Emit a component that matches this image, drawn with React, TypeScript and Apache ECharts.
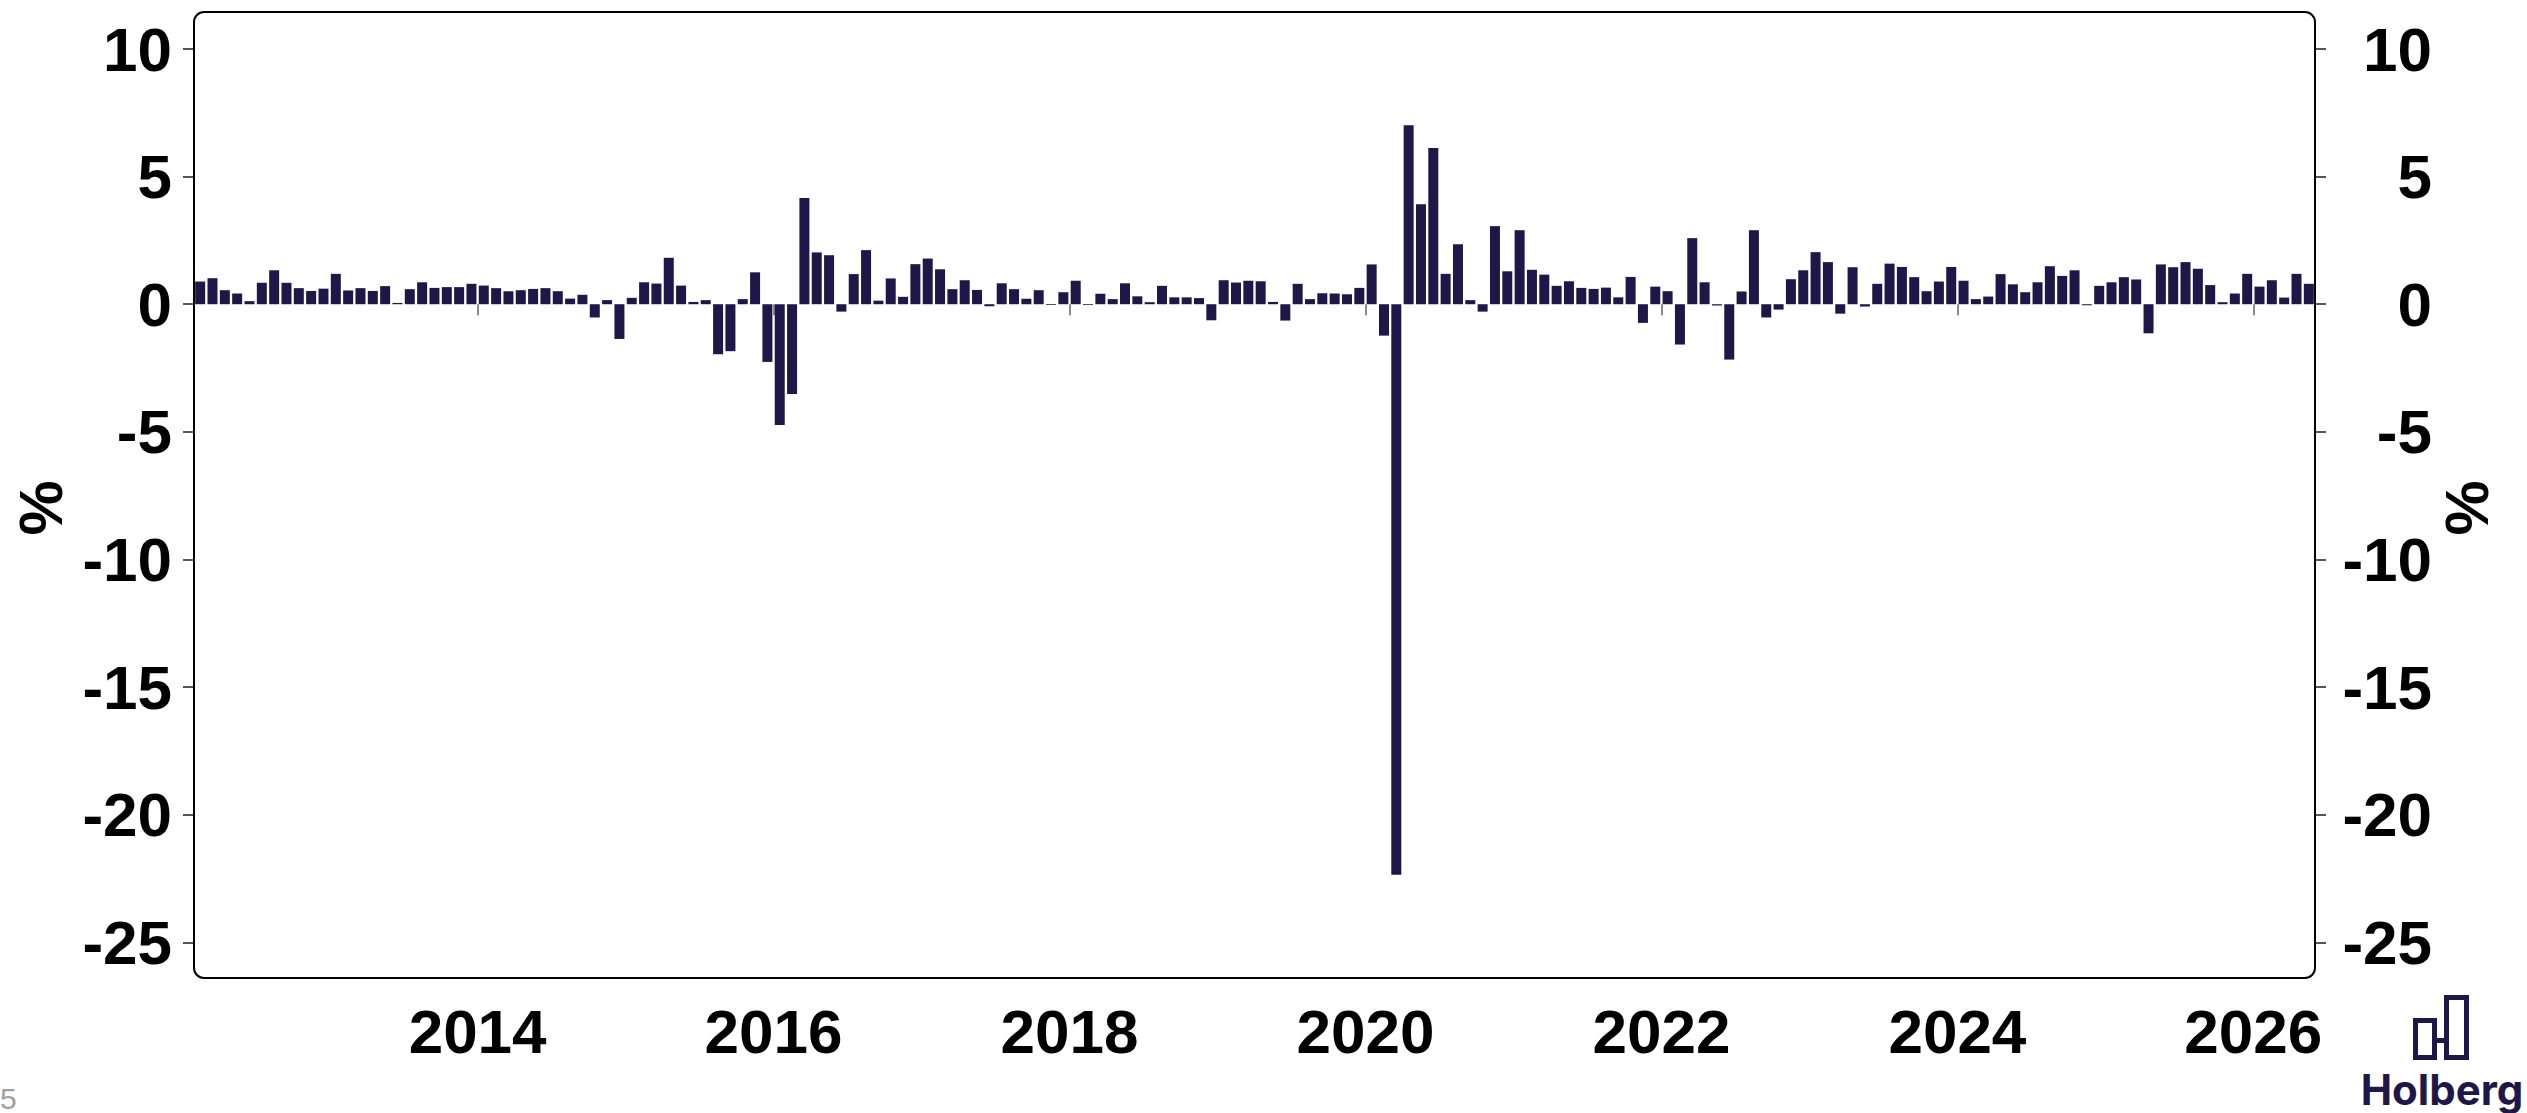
import React, { useEffect, useRef } from "react";
import * as echarts from "echarts";

// Monthly change, %, from Feb 2012 to May 2026
const startYear = 2012;
const startMonth = 2;
const values = [
  0.89, 1.02, 0.55, 0.42, 0.12, 0.84, 1.33, 0.84, 0.63, 0.52, 0.61, 1.19,
  0.54, 0.63, 0.52, 0.71, 0.05, 0.59, 0.86, 0.64, 0.67, 0.67, 0.8, 0.73,
  0.63, 0.51, 0.55, 0.6, 0.63, 0.51, 0.22, 0.37, -0.52, 0.16, -1.36, 0.25,
  0.86, 0.81, 1.82, 0.73, 0.09, 0.16, -1.96, -1.84, 0.2, 1.25, -2.26, -4.73,
  -3.52, 4.16, 2.03, 1.92, -0.29, 1.18, 2.12, 0.14, 1.01, 0.29, 1.57, 1.79,
  1.37, 0.59, 0.94, 0.56, -0.08, 0.82, 0.59, 0.21, 0.55, -0.03, 0.47, 0.92,
  -0.03, 0.41, 0.2, 0.82, 0.31, 0.08, 0.72, 0.27, 0.27, 0.24, -0.63, 0.94,
  0.85, 0.92, 0.9, 0.09, -0.64, 0.8, 0.2, 0.43, 0.42, 0.39, 0.64, 1.56,
  -1.23, -22.35, 7.01, 3.92, 6.12, 1.19, 2.35, 0.16, -0.29, 3.06, 1.29, 2.9,
  1.35, 1.16, 0.72, 0.9, 0.64, 0.6, 0.65, 0.27, 1.07, -0.73, 0.69, 0.51,
  -1.58, 2.59, 0.86, -0.05, -2.17, 0.5, 2.9, -0.52, -0.21, 0.98, 1.33, 2.04,
  1.65, -0.37, 1.45, -0.09, 0.8, 1.59, 1.46, 1.06, 0.51, 0.89, 1.46, 0.92,
  0.2, 0.3, 1.18, 0.78, 0.47, 0.86, 1.49, 1.11, 1.33, -0.04, 0.72, 0.86,
  1.06, 0.97, -1.14, 1.56, 1.45, 1.65, 1.39, 0.75, 0.08, 0.42, 1.19, 0.69,
  0.94, 0.26, 1.19, 0.8,
];
const yTicks = [-25, -20, -15, -10, -5, 0, 5, 10];
const xTicks = [2014, 2016, 2018, 2020, 2022, 2024, 2026];

const BAR = "#1f1748";
const FONT = "Liberation Sans, Arial, sans-serif";

export default function App() {
  const ref = useRef<HTMLDivElement>(null);

  useEffect(() => {
    if (!ref.current) return;
    const chart = echarts.init(ref.current, null, { renderer: "svg" });
    const months = values.map((_, i) => {
      const m = startMonth - 1 + i;
      const y = startYear + Math.floor(m / 12);
      return `${y}-${String((m % 12) + 1).padStart(2, "0")}`;
    });
    const xMin = startYear + (startMonth - 1) / 12;
    const xMax = startYear + (startMonth - 1 + values.length) / 12;

    const G = { left: 194, top: 12, right: 212, bottom: 135 };
    const W = 2527;
    const H = 1113;

    const labelStyle = {
      fontFamily: FONT,
      fontWeight: "bold" as const,
      fontSize: 62,
      color: "#000",
    };

    const yAxisCommon = {
      type: "value" as const,
      min: -26.4,
      max: 11.45,
      splitLine: { show: false },
      axisLine: { show: false },
      axisTick: {
        show: true,
        customValues: yTicks,
        length: 11,
        lineStyle: { color: "#555", width: 2 },
      },
    };

    chart.setOption({
      animation: false,
      backgroundColor: "#fff",
      grid: { ...G, containLabel: false },
      xAxis: [
        {
          type: "category",
          data: months,
          boundaryGap: true,
          show: false,
        },
        {
          type: "value",
          min: xMin,
          max: xMax,
          position: "bottom",
          splitLine: { show: false },
          axisLine: { show: false },
          axisTick: {
            show: true,
            customValues: xTicks,
            length: 11,
            lineStyle: { color: "#666", width: 1.5 },
          },
          axisLabel: {
            ...labelStyle,
            customValues: xTicks,
            formatter: (v: number) => String(Math.round(v)),
            margin: 22,
          },
        },
      ],
      yAxis: [
        {
          ...yAxisCommon,
          position: "left",
          axisLabel: { ...labelStyle, customValues: yTicks, margin: 22 },
        },
        {
          ...yAxisCommon,
          position: "right",
          axisLabel: {
            ...labelStyle,
            customValues: yTicks,
            margin: 117,
            align: "right",
          },
        },
      ],
      series: [
        {
          type: "bar",
          data: values,
          barWidth: 10,
          itemStyle: { color: BAR },
          xAxisIndex: 0,
          yAxisIndex: 0,
        },
      ],
      graphic: [
        {
          type: "rect",
          z: 100,
          silent: true,
          shape: {
            x: G.left,
            y: G.top,
            width: W - G.left - G.right,
            height: H - G.top - G.bottom,
            r: 10,
          },
          style: { fill: "none", stroke: "#000", lineWidth: 2 },
        },
        {
          type: "text",
          x: 40,
          y: 508,
          rotation: Math.PI / 2,
          style: {
            text: "%",
            ...{ fontFamily: FONT, fontWeight: "bold", fontSize: 62, fill: "#000" },
            align: "center",
            verticalAlign: "middle",
          },
        },
        {
          type: "text",
          x: 2466,
          y: 508,
          rotation: Math.PI / 2,
          style: {
            text: "%",
            ...{ fontFamily: FONT, fontWeight: "bold", fontSize: 62, fill: "#000" },
            align: "center",
            verticalAlign: "middle",
          },
        },
        {
          type: "text",
          x: 0,
          y: 1113,
          style: {
            text: "5",
            fontSize: 30,
            fontFamily: FONT,
            fill: "#a0a0a0",
            align: "left",
            verticalAlign: "bottom",
          },
        },
        {
          type: "group",
          left: 2413,
          top: 995,
          children: [
            {
              type: "rect",
              shape: { x: 2, y: 25, width: 19, height: 37 },
              style: { fill: "none", stroke: BAR, lineWidth: 5 },
            },
            {
              type: "rect",
              shape: { x: 33, y: 2, width: 20, height: 60 },
              style: { fill: "none", stroke: BAR, lineWidth: 5 },
            },
            {
              type: "line",
              shape: { x1: 21, y1: 45, x2: 33, y2: 45 },
              style: { stroke: BAR, lineWidth: 5 },
            },
          ],
        },
        {
          type: "text",
          x: 2442,
          y: 1068,
          style: {
            text: "Holberg",
            fontSize: 42,
            fontWeight: "bold",
            fontFamily: "Inter, Lato, sans-serif",
            fill: BAR,
            align: "center",
            verticalAlign: "top",
          },
        },
      ],
    });
    return () => chart.dispose();
  }, []);

  return (
    <div
      ref={ref}
      style={{ position: "fixed", left: 0, top: 0, width: 2527, height: 1113 }}
    />
  );
}
